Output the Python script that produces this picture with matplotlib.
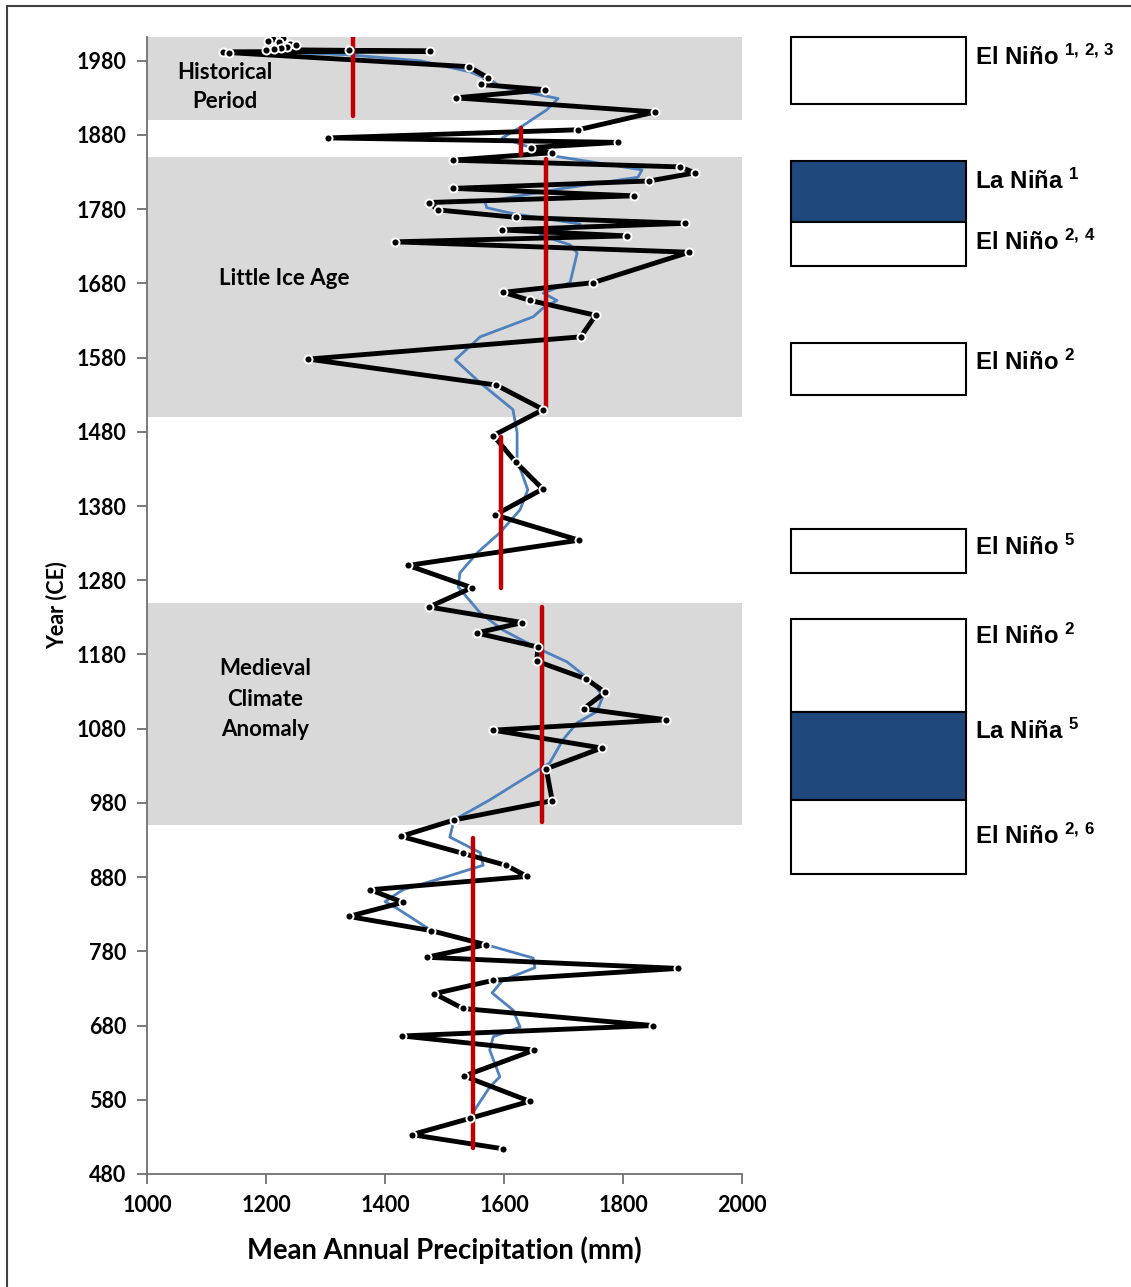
import matplotlib
matplotlib.use("Agg")
import matplotlib.pyplot as plt
from matplotlib.patches import Rectangle

# reconstructed precipitation samples (year CE, mm), newest first
years = [2011, 2009, 2007, 2005, 2003, 2001, 1999, 1997, 1996, 1995, 1994, 1993, 1992, 1991,
         1972, 1957, 1948, 1941, 1930, 1911, 1887, 1876, 1870, 1863, 1856,
         1846, 1837, 1829, 1818, 1808, 1798, 1789, 1779, 1769, 1761, 1752, 1744, 1736, 1722,
         1681, 1668, 1657, 1637, 1608, 1578, 1543, 1510,
         1475, 1439, 1403, 1368, 1334, 1300, 1270,
         1244, 1223, 1209, 1190, 1171, 1147, 1129, 1107, 1092, 1078, 1054, 1026, 983, 957,
         935, 912, 896, 881, 863, 846, 827, 808, 789, 772, 757, 741, 723, 703, 680, 666,
         647, 612, 578, 555, 533, 514]
precip = [1228, 1212, 1203, 1222, 1240, 1250, 1236, 1226, 1214, 1200, 1339, 1476, 1127, 1138,
          1541, 1573, 1561, 1669, 1519, 1854, 1725, 1304, 1791, 1645, 1680,
          1514, 1895, 1921, 1844, 1515, 1818, 1474, 1489, 1620, 1905, 1597, 1807, 1417, 1911,
          1750, 1599, 1644, 1754, 1729, 1271, 1587, 1666,
          1582, 1620, 1665, 1585, 1726, 1439, 1546,
          1474, 1631, 1554, 1657, 1655, 1738, 1770, 1734, 1872, 1582, 1764, 1671, 1681, 1516,
          1427, 1531, 1603, 1639, 1375, 1430, 1339, 1477, 1569, 1470, 1893, 1582, 1483, 1531,
          1850, 1429, 1651, 1533, 1643, 1543, 1445, 1598]

# smoothed curve
smooth_years = [1991, 1988, 1980, 1965, 1952, 1945, 1929, 1914, 1890, 1876, 1851, 1833, 1823,
                1808, 1790, 1782, 1774, 1760, 1752, 1745, 1732, 1721, 1681, 1667, 1657, 1647,
                1635, 1608, 1577, 1546, 1510, 1479, 1442, 1402, 1375, 1344, 1317, 1290, 1271,
                1236, 1213, 1189, 1170, 1142, 1123, 1103, 1088, 1065, 1034, 1007, 984, 957,
                934, 913, 896, 879, 863, 847, 838, 809, 789, 771, 758, 741, 724, 701, 678,
                665, 647, 611, 597, 557]
smooth_precip = [1240, 1338, 1459, 1543, 1582, 1593, 1691, 1672, 1627, 1597, 1689, 1832, 1825,
                 1699, 1568, 1571, 1615, 1728, 1706, 1661, 1711, 1723, 1711, 1666, 1689, 1666,
                 1649, 1560, 1518, 1560, 1615, 1622, 1622, 1640, 1627, 1593, 1555, 1526, 1523,
                 1560, 1598, 1655, 1706, 1750, 1766, 1756, 1723, 1699, 1677, 1622, 1576, 1516,
                 1509, 1560, 1565, 1497, 1430, 1400, 1420, 1476, 1570, 1649, 1652, 1598, 1580,
                 1615, 1627, 1582, 1576, 1593, 1576, 1543]

# period means (red bars)
mean_starts = [1905, 1853, 1510, 1270, 954, 515]
mean_ends = [2012, 1890, 1847, 1473, 1244, 933]
mean_values = [1346, 1629, 1671, 1595, 1664, 1548]

# shaded climate periods
band_starts = [1900, 1500, 950]
band_ends = [2012, 1850, 1250]

# ENSO state boxes
enso_starts = [1922, 1763, 1704, 1530, 1290, 1103, 984, 884]
enso_ends = [2012, 1845, 1763, 1600, 1349, 1228, 1103, 984]
enso_phase = ["El Niño", "La Niña", "El Niño", "El Niño", "El Niño", "El Niño", "La Niña", "El Niño"]
enso_refs = ["1,2,3", "1", "2,4", "2", "5", "2", "5", "2,6"]
enso_label_years = [1984, 1818, 1736, 1574, 1324, 1204, 1077, 935]

plt.rcParams["font.family"] = ["Lato", "DejaVu Sans"]
plt.rcParams["mathtext.fontset"] = "custom"
plt.rcParams["mathtext.rm"] = "Liberation Sans:bold"
plt.rcParams["mathtext.bf"] = "Liberation Sans:bold"
plt.rcParams["mathtext.it"] = "Liberation Sans:bold"

W, H = 1131, 1287
fig = plt.figure(figsize=(W / 100, H / 100), dpi=100)
ax = fig.add_axes([147 / W, 1 - 1174 / H, 595 / W, 1137 / H])
ax2 = fig.add_axes([791 / W, 1 - 1174 / H, 175 / W, 1137 / H], sharey=ax)

for s, e in zip(band_starts, band_ends):
    ax.axhspan(s, e, color="#d9d9d9", lw=0, zorder=0)

ax.plot(smooth_precip, smooth_years, color="#4f81bd", lw=2.0, zorder=2)
ax.plot(precip, years, color="black", lw=3.5, zorder=3, solid_joinstyle="round")
for m, s, e in zip(mean_values, mean_starts, mean_ends):
    ax.plot([m, m], [s, e], color="#c00000", lw=3.2, solid_capstyle="round", zorder=4)
ax.plot(precip, years, ls="none", marker="o", ms=5.8, mfc="black", mec="white", mew=1.4, zorder=5)

tk = dict(fontsize=16, fontweight="bold", ha="center", va="center", zorder=6)
ax.text(1131, 1945, "Historical\nPeriod", linespacing=1.45, **tk)
ax.text(1230, 1686, "Little Ice Age", **tk)
ax.text(1198, 1120, "Medieval\nClimate\nAnomaly", linespacing=1.55, **tk)

ax.set_xlim(1000, 2000)
ax.set_ylim(480, 2012)
ax.set_xticks(range(1000, 2001, 200))
ax.set_yticks(range(480, 1981, 100))
for sp in ["top", "right"]:
    ax.spines[sp].set_visible(False)
for sp in ["left", "bottom"]:
    ax.spines[sp].set_color("#707070")
    ax.spines[sp].set_linewidth(1.3)
ax.tick_params(length=7, width=1.3, color="#707070", labelsize=15.5, pad=8)
for lab in ax.get_xticklabels() + ax.get_yticklabels():
    lab.set_fontweight("bold")
ax.set_xlabel("Mean Annual Precipitation (mm)", fontsize=19.8, fontweight="bold")
ax.xaxis.set_label_coords(0.5, -0.055)
ax.set_ylabel("Year (CE)", fontsize=15.5, fontweight="bold")
ax.yaxis.set_label_coords(-0.134, 0.5)

ax2.set_xlim(0, 1)
ax2.axis("off")
for s, e, ph in zip(enso_starts, enso_ends, enso_phase):
    ax2.bar(0.5, e - s, bottom=s, width=1, color="#1f497d" if ph == "La Niña" else "white",
            edgecolor="black", lw=1.5, clip_on=False)
for ph, ref, y in zip(enso_phase, enso_refs, enso_label_years):
    ax2.text(1.05, y, ph + " $^{" + ref.replace(",", ",\\,") + "}$", fontsize=17.3,
             family="Liberation Sans", fontweight="bold", va="center", ha="left", clip_on=False)

fig.add_artist(Rectangle((7 / W, -0.1), 1.2, 1.1 - 6 / H, transform=fig.transFigure,
                         fill=False, ec="#404040", lw=1.5))

fig.savefig("out.png", dpi=100)
